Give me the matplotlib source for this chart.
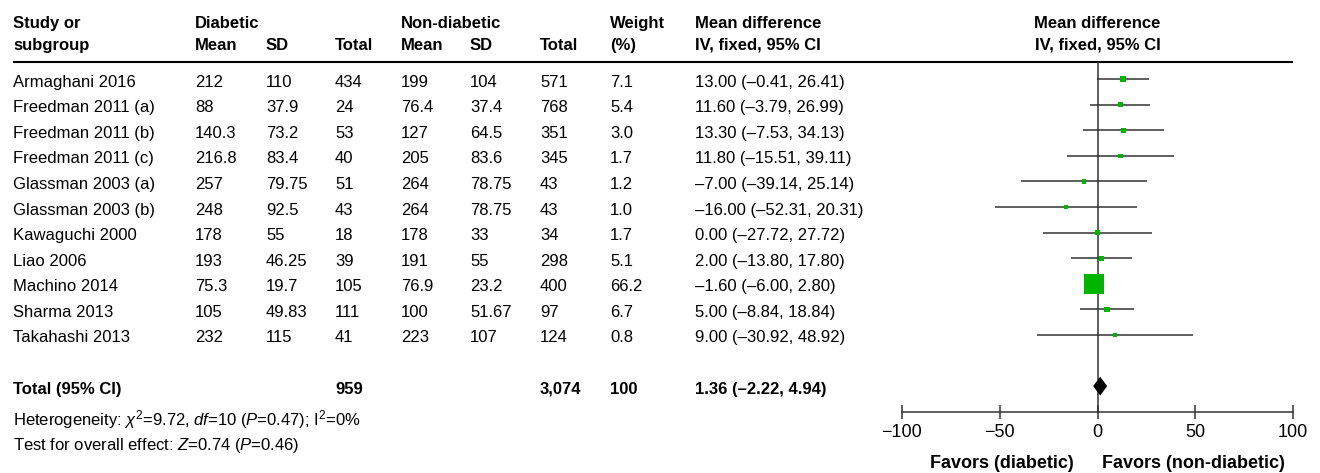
import matplotlib
matplotlib.use('Agg')
import matplotlib.pyplot as plt
from matplotlib import transforms
import numpy as np

plt.rcParams['font.family'] = ['Liberation Sans', 'DejaVu Sans']
plt.rcParams['mathtext.fontset'] = 'custom'
plt.rcParams['mathtext.rm'] = 'Liberation Sans'
plt.rcParams['mathtext.it'] = 'Liberation Sans:italic'
plt.rcParams['mathtext.bf'] = 'Liberation Sans:bold'

# ---------------- data ----------------
studies = ["Armaghani 2016", "Freedman 2011 (a)", "Freedman 2011 (b)", "Freedman 2011 (c)",
           "Glassman 2003 (a)", "Glassman 2003 (b)", "Kawaguchi 2000", "Liao 2006",
           "Machino 2014", "Sharma 2013", "Takahashi 2013"]
d_mean = [212, 88, 140.3, 216.8, 257, 248, 178, 193, 75.3, 105, 232]
d_sd = [110, 37.9, 73.2, 83.4, 79.75, 92.5, 55, 46.25, 19.7, 49.83, 115]
d_total = [434, 24, 53, 40, 51, 43, 18, 39, 105, 111, 41]
n_mean = [199, 76.4, 127, 205, 264, 264, 178, 191, 76.9, 100, 223]
n_sd = [104, 37.4, 64.5, 83.6, 78.75, 78.75, 33, 55, 23.2, 51.67, 107]
n_total = [571, 768, 351, 345, 43, 43, 34, 298, 400, 97, 124]
weight = [7.1, 5.4, 3.0, 1.7, 1.2, 1.0, 1.7, 5.1, 66.2, 6.7, 0.8]
md = [13.00, 11.60, 13.30, 11.80, -7.00, -16.00, 0.00, 2.00, -1.60, 5.00, 9.00]
ci_lo = [-0.41, -3.79, -7.53, -15.51, -39.14, -52.31, -27.72, -13.80, -6.00, -8.84, -30.92]
ci_hi = [26.41, 26.99, 34.13, 39.11, 25.14, 20.31, 27.72, 17.80, 2.80, 18.84, 48.92]
total_md, total_lo, total_hi = 1.36, -2.22, 4.94
total_weight = 100
x_ticks = [-100, -50, 0, 50, 100]
heterogeneity = r"Heterogeneity: $\chi^{2}$=9.72, $df$=10 ($P$=0.47); I$^{2}$=0%"
overall = r"Test for overall effect: $Z$=0.74 ($P$=0.46)"
favors_left = "Favors (diabetic)"
favors_right = "Favors (non-diabetic)"

# ---------------- layout ----------------
W, H = 1320, 473
fig = plt.figure(figsize=(W / 100, H / 100), dpi=100)
ax0 = fig.add_axes([0, 0, 1, 1])
ax0.set_xlim(0, W)
ax0.set_ylim(H, 0)
ax0.axis('off')

top_px, axis_px = 61.7, 411.7
left_px, right_px = 902, 1293
axf = fig.add_axes([left_px / W, 1 - axis_px / H, (right_px - left_px) / W, (axis_px - top_px) / H])
axf.patch.set_alpha(0)
axf.set_xlim(-100, 100)
axf.set_ylim(13, -0.68)

line_col = '#333333'
green = '#00b400'
FS = 12

rows = np.arange(len(studies))
total_row = len(studies) + 1

# forest marks
axf.axvline(0, color=line_col, lw=1.1, zorder=1)
axf.hlines(rows, ci_lo, ci_hi, color=line_col, lw=1.1, zorder=2)
w = np.array(weight)
side_px = 4 + 16 * w / w.max()
axf.scatter(md, rows, marker='s', s=(side_px * 0.72) ** 2, color=green, linewidths=0, zorder=3)
dh = 0.37
axf.fill([total_lo, total_md, total_hi, total_md],
         [total_row, total_row - dh, total_row, total_row + dh],
         color='black', lw=0, zorder=4)

for s in ['top', 'left', 'right']:
    axf.spines[s].set_visible(False)
axf.spines['bottom'].set_color(line_col)
axf.spines['bottom'].set_linewidth(1.1)
axf.set_yticks([])
axf.set_xticks(x_ticks)
axf.tick_params(axis='x', direction='inout', length=9.4, width=1.1, color=line_col,
                labelsize=13, pad=4)

# header line
ax0.plot([13, right_px], [top_px, top_px], color='black', lw=1.5, solid_capstyle='butt')

# header text
hdr1, hdr2 = 28, 50
bold = dict(fontsize=FS, fontweight='bold', va='baseline')
ax0.text(13, hdr1, "Study or", **bold)
ax0.text(13, hdr2, "subgroup", **bold)
ax0.text(195, hdr1, "Diabetic", **bold)
ax0.text(195, hdr2, "Mean", **bold)
ax0.text(266, hdr2, "SD", **bold)
ax0.text(335, hdr2, "Total", **bold)
ax0.text(401, hdr1, "Non-diabetic", **bold)
ax0.text(401, hdr2, "Mean", **bold)
ax0.text(470, hdr2, "SD", **bold)
ax0.text(540, hdr2, "Total", **bold)
ax0.text(610, hdr1, "Weight", **bold)
ax0.text(610, hdr2, "(%)", **bold)
ax0.text(695, hdr1, "Mean difference", **bold)
ax0.text(695, hdr2, "IV, fixed, 95% CI", **bold)
zero_px = left_px + (right_px - left_px) / 2
ax0.text(zero_px, hdr1, "Mean difference", ha='center', **bold)
ax0.text(zero_px, hdr2, "IV, fixed, 95% CI", ha='center', **bold)

# row text
trans = transforms.blended_transform_factory(ax0.transData, axf.transData)
trans = transforms.offset_copy(trans, fig=fig, x=0, y=-7.5, units='dots')


def fmt_ci(m, lo, hi):
    return f"{m:.2f} ({lo:.2f}, {hi:.2f})".replace('-', '\u2013')


cols = [13, 195, 266, 335, 401, 470, 540, 610, 695]
for i, name in enumerate(studies):
    vals = [name, f"{d_mean[i]:g}", f"{d_sd[i]:g}", f"{d_total[i]}", f"{n_mean[i]:g}",
            f"{n_sd[i]:g}", f"{n_total[i]}", f"{weight[i]:.1f}", fmt_ci(md[i], ci_lo[i], ci_hi[i])]
    for x, v in zip(cols, vals):
        ax0.text(x, rows[i], v, transform=trans, fontsize=FS, va='baseline')

tot_vals = [(13, "Total (95% CI)"), (335, f"{sum(d_total):,}"), (540, f"{sum(n_total):,}"),
            (610, f"{total_weight}"), (695, fmt_ci(total_md, total_lo, total_hi))]
for x, v in tot_vals:
    ax0.text(x, total_row, v, transform=trans, fontsize=FS, fontweight='bold', va='baseline')

ax0.text(13, 425, heterogeneity, fontsize=FS, va='baseline')
ax0.text(13, 450, overall, fontsize=FS, va='baseline')

ax0.text(1074, 468, favors_left, fontsize=13, fontweight='bold', va='baseline', ha='right')
ax0.text(1102, 468, favors_right, fontsize=13, fontweight='bold', va='baseline', ha='left')

fig.savefig('out.png', dpi=100)
